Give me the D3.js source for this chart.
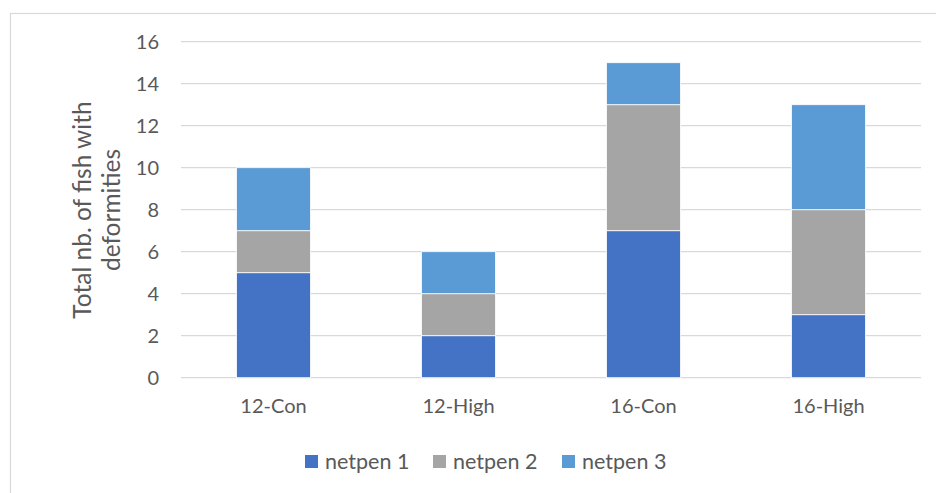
<!DOCTYPE html>
<html>
<head>
<meta charset="utf-8">
<script src="https://cdn.jsdelivr.net/npm/d3@7"></script>
<style>
  html, body { margin: 0; padding: 0; background: #fff; }
  svg { display: block; }
  text { font-family: Lato, "Open Sans", sans-serif; fill: #595959; }
</style>
</head>
<body>
<svg id="chart" width="936" height="493"></svg>
<script>
// Fish with deformities per treatment, stacked by net pen
const categories = ["12-Con", "12-High", "16-Con", "16-High"];
const seriesNames = ["netpen 1", "netpen 2", "netpen 3"];
const netpen1 = [5, 2, 7, 3];
const netpen2 = [2, 2, 6, 5];
const netpen3 = [3, 2, 2, 5];
const yTicks = [0, 2, 4, 6, 8, 10, 12, 14, 16];
const colors = ["#4472C4", "#A5A5A5", "#5B9BD5"];

const rows = categories.map((c, i) => ({
  category: c,
  "netpen 1": netpen1[i],
  "netpen 2": netpen2[i],
  "netpen 3": netpen3[i]
}));

const svg = d3.select("#chart");
const W = 936, H = 493;

// chart frame
svg.append("rect")
  .attr("x", 10.5).attr("y", 13.5)
  .attr("width", W).attr("height", H)
  .attr("fill", "#fff")
  .attr("stroke", "#D9D9D9").attr("stroke-width", 1.2);

const plot = { left: 181, right: 921, top: 41.7, bottom: 377.7 };

const x = d3.scaleBand()
  .domain(categories)
  .range([plot.left, plot.right])
  .paddingInner(0.6)
  .paddingOuter(0.3);

const y = d3.scaleLinear()
  .domain([0, 16])
  .range([plot.bottom, plot.top]);

// gridlines
svg.append("g")
  .selectAll("line")
  .data(yTicks)
  .join("line")
  .attr("x1", plot.left).attr("x2", plot.right)
  .attr("y1", d => y(d)).attr("y2", d => y(d))
  .attr("stroke", "#D9D9D9").attr("stroke-width", 1.3);

// y axis labels
const yAxis = d3.axisLeft(y).tickValues(yTicks).tickSize(0).tickPadding(0);
const gy = svg.append("g")
  .attr("transform", `translate(${159},0)`)
  .call(yAxis);
gy.select(".domain").remove();
gy.selectAll("text")
  .attr("font-size", 20)
  .attr("font-family", "Lato, sans-serif")
  .attr("fill", "#595959");

// stacked bars
const stack = d3.stack().keys(seriesNames);
const layers = stack(rows);

svg.append("g")
  .selectAll("g")
  .data(layers)
  .join("g")
  .attr("fill", (d, i) => colors[i])
  .selectAll("rect")
  .data(d => d)
  .join("rect")
  .attr("x", d => x(d.data.category))
  .attr("width", x.bandwidth())
  .attr("y", d => y(d[1]))
  .attr("height", d => y(d[0]) - y(d[1]))
  .attr("stroke", "#fff")
  .attr("stroke-width", 0.8);

// x axis labels
const xAxis = d3.axisBottom(x).tickSize(0).tickPadding(0);
const gx = svg.append("g")
  .attr("transform", `translate(0,${plot.bottom + 21})`)
  .call(xAxis);
gx.select(".domain").remove();
gx.selectAll("text")
  .attr("font-size", 20)
  .attr("font-family", "Lato, sans-serif")
  .attr("fill", "#595959");

// y axis title
const yTitle = svg.append("text")
  .attr("transform", "translate(91,210) rotate(-90)")
  .attr("text-anchor", "middle")
  .attr("font-size", 24.5);
yTitle.append("tspan").attr("x", 0).attr("dy", 0).text("Total nb. of fish with");
yTitle.append("tspan").attr("x", 0).attr("dy", 29).text("deformities");

// legend
const legendX = [305, 433, 562];
const legend = svg.append("g")
  .selectAll("g")
  .data(seriesNames)
  .join("g")
  .attr("transform", (d, i) => `translate(${legendX[i]},${455})`);
legend.append("rect")
  .attr("width", 13).attr("height", 13)
  .attr("fill", (d, i) => colors[i]);
legend.append("text")
  .attr("x", 20).attr("y", 6.5)
  .attr("dy", "0.35em")
  .attr("font-size", 21.5)
  .text(d => d);
</script>
</body>
</html>
